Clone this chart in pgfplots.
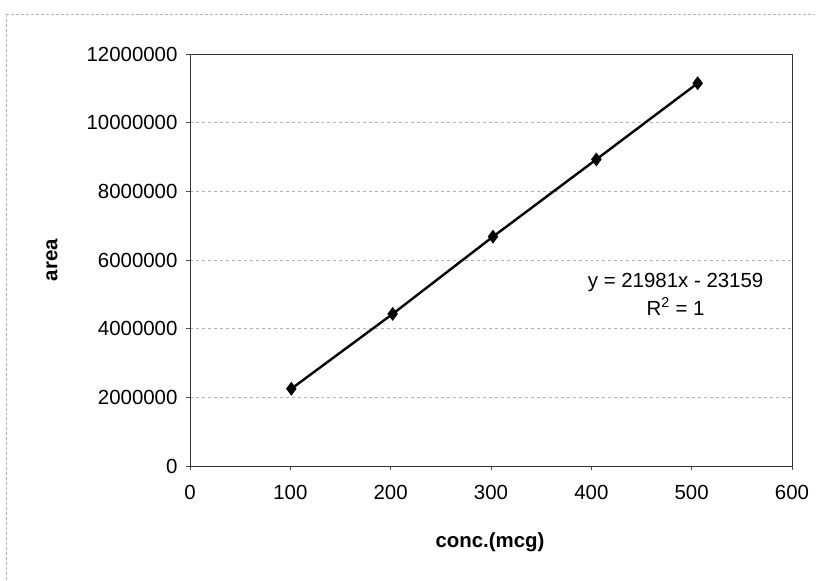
\documentclass[border=0pt]{standalone}
\usepackage{pgfplots}
\pgfplotsset{compat=1.18}
\usepackage{fontspec}
\setmainfont{Liberation Sans}
\begin{document}
\begin{tikzpicture}
\useasboundingbox (0,0) rectangle (820bp,581bp);
\draw[gray!60, densely dashed, line width=0.6bp] (6bp,567bp) -- (815bp,567bp);
\draw[gray!60, densely dashed, line width=0.6bp] (6bp,567bp) -- (6bp,0bp);
\begin{axis}[
  at={(190bp,115bp)}, anchor=south west,
  scale only axis, width=602bp, height=412bp,
  xmin=0, xmax=600, ymin=0, ymax=12000000,
  xtick={0,100,...,600},
  ytick={0,2000000,...,12000000},
  scaled y ticks=false,
  /pgf/number format/assume math mode=true,
  yticklabel style={/pgf/number format/fixed, /pgf/number format/1000 sep={}, font=\fontsize{20.5}{24}\selectfont, xshift=-5bp},
  xticklabel style={font=\fontsize{20.5}{24}\selectfont, yshift=-12bp},
  tick align=outside, major tick length=4bp,
  tick style={black!70, line width=0.6bp},
  xtick pos=bottom, ytick pos=left,
  ymajorgrids, major grid style={gray!60, dashed, line width=0.6bp},
  axis line style={black!80, line width=0.8bp},
  clip=false,
]
\addplot[black, line width=2.4bp, mark=diamond*, mark size=5bp, mark options={solid, fill=black}]
  coordinates {(101,2250000) (202,4430000) (302,6680000) (405,8930000) (506,11150000)};
\node[align=center, font=\fontsize{20.5}{28}\selectfont] at (axis cs:484,5010000) {y = 21981x - 23159\\R\textsuperscript{2} = 1};
\end{axis}
\node[rotate=90, font=\bfseries\fontsize{20.5}{24}\selectfont] at (52bp,321bp) {area};
\node[font=\bfseries\fontsize{20.5}{24}\selectfont] at (490bp,39bp) {conc.(mcg)};
\end{tikzpicture}
\end{document}
